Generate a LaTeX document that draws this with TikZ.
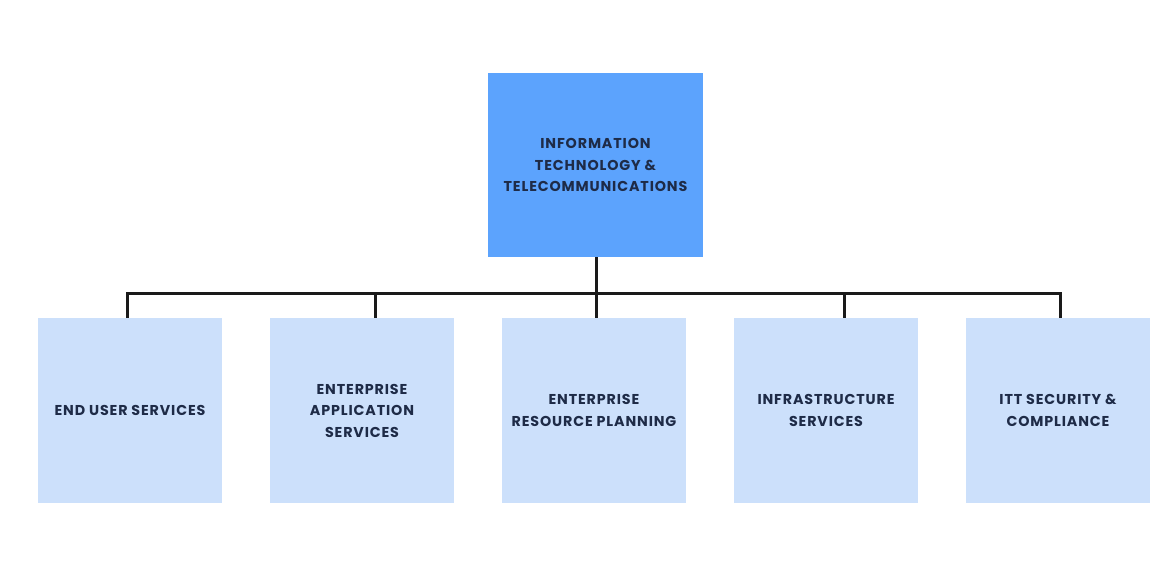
\documentclass[tikz,border=0pt]{standalone}
\usepackage{fontspec}
\setmainfont{Poppins}[BoldFont={* Bold}]
\newfontfamily\boxfont{Poppins}[BoldFont={* Bold},LetterSpace=6]
\definecolor{topblue}{HTML}{5CA3FD}
\definecolor{childblue}{HTML}{CCE0FB}
\definecolor{textnavy}{HTML}{1E2B47}
\definecolor{linedark}{HTML}{1A1A1A}
\begin{document}
\begin{tikzpicture}[x=1pt,y=-1pt,
  box/.style={draw=none,inner sep=0pt,minimum width=184pt,minimum height=185pt,
    align=center,text=textnavy,font=\boxfont\bfseries\fontsize{14.3}{21.5}\selectfont},
  topbox/.style={box,fill=topblue,minimum width=215pt,minimum height=184pt},
  childbox/.style={box,fill=childblue},
  conn/.style={draw=linedark,line width=3pt}]
\useasboundingbox (0,0) rectangle (1169,567);
\node[topbox] (top) at (595.5,165) {INFORMATION\\TECHNOLOGY \&\\TELECOMMUNICATIONS};
\node[childbox] (c1) at (130,410.5) {END USER SERVICES};
\node[childbox] (c2) at (362,410.5) {ENTERPRISE\\APPLICATION\\SERVICES};
\node[childbox] (c3) at (594,410.5) {ENTERPRISE\\RESOURCE PLANNING};
\node[childbox] (c4) at (826,410.5) {INFRASTRUCTURE\\SERVICES};
\node[childbox] (c5) at (1058,410.5) {ITT SECURITY \&\\COMPLIANCE};
\coordinate (bus) at (596,293);
\coordinate (b1) at (127,293);
\coordinate (b2) at (375,293);
\coordinate (b4) at (844,293);
\coordinate (b5) at (1060,293);
\draw[conn] (top.south -| bus) -- (c3.north -| bus);
\draw[conn] (c1.north -| b1) -- (b1) -- (b5) -- (c5.north -| b5);
\draw[conn] (b2) -- (c2.north -| b2);
\draw[conn] (b4) -- (c4.north -| b4);
\end{tikzpicture}
\end{document}
